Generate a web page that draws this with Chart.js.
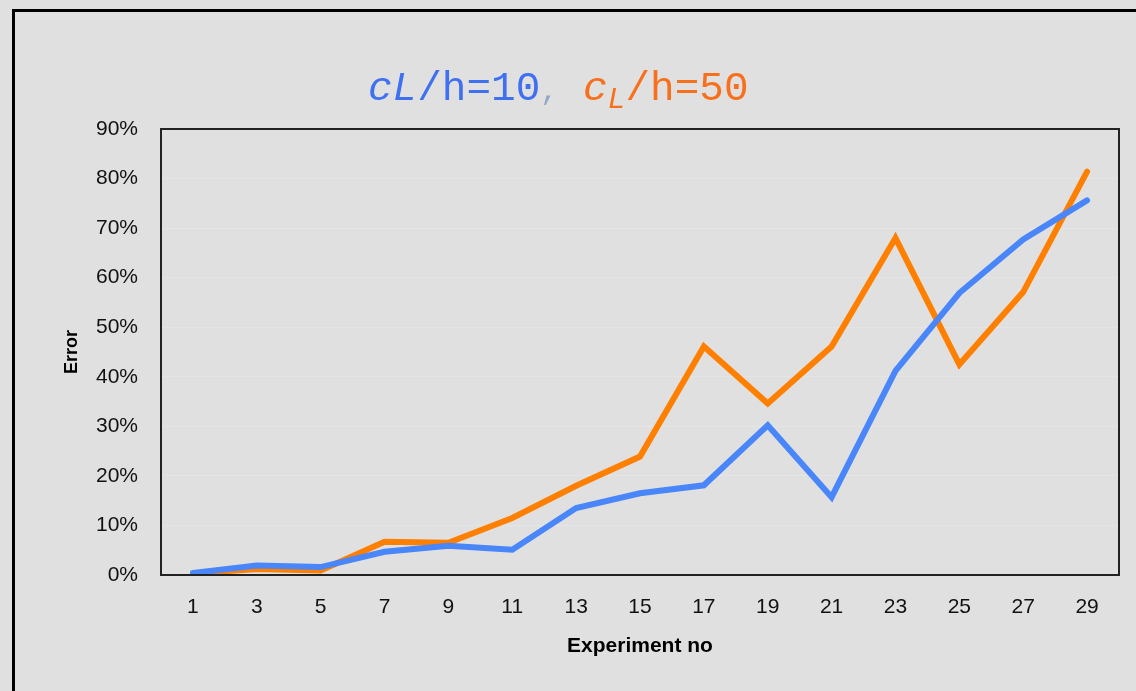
<!DOCTYPE html>
<html>
<head>
<meta charset="utf-8">
<script src="https://cdn.jsdelivr.net/npm/chart.js@4"></script>
<style>
  html, body { margin: 0; padding: 0; background: #e0e0e0; overflow: hidden; }
  #wrap { position: relative; width: 1136px; height: 691px; }
  #frame { position: absolute; left: 12px; top: 9px; width: 1200px; height: 800px;
           border-left: 3px solid #000; border-top: 3px solid #000; }
  #chart { position: absolute; left: 0; top: 0; }
  #title { position: absolute; left: 368px; top: 65px; font-family: "Liberation Mono", monospace;
           font-size: 41px; line-height: 48px; white-space: nowrap; }
  #title .b { color: #3f70f2; }
  #title .o { color: #f8701c; }
  #title .cm { color: #8fa9c9; font-size: 30px; }
  #title sub { font-size: 30px; vertical-align: -8px; line-height: 0; }
</style>
</head>
<body>
<div id="wrap">
  <div id="frame"></div>
  <canvas id="chart" width="1136" height="691"></canvas>
  <div id="title"><span class="b"><i>c</i><i>L</i>/h=10</span><span class="cm">,</span> <span class="o"><i>c</i><sub><i>L</i></sub>/h=50</span></div>
</div>
<script>
const experiments = ['1', '3', '5', '7', '9', '11', '13', '15', '17', '19', '21', '23', '25', '27', '29'];
const errorH10 = [0.004, 0.019, 0.016, 0.047, 0.059, 0.051, 0.135, 0.165, 0.181, 0.302, 0.157, 0.412, 0.569, 0.677, 0.756];
const errorH50 = [0.003, 0.012, 0.009, 0.067, 0.065, 0.115, 0.180, 0.239, 0.461, 0.346, 0.461, 0.680, 0.425, 0.571, 0.814];

// box around the plot area
const plotBox = {
  id: 'plotBox',
  afterDatasetsDraw(chart) {
    const a = chart.chartArea;
    const ctx = chart.ctx;
    ctx.save();
    ctx.strokeStyle = '#222';
    ctx.lineWidth = 2;
    ctx.strokeRect(a.left, a.top, a.right - a.left, a.bottom - a.top);
    ctx.restore();
  }
};

const ctx = document.getElementById('chart').getContext('2d');
new Chart(ctx, {
  type: 'line',
  data: {
    labels: experiments,
    datasets: [
      {
        label: 'cL/h=10',
        data: errorH10,
        borderColor: '#4886fa',
        borderWidth: 6,
        borderCapStyle: 'round',
        pointRadius: 0,
        tension: 0,
        fill: false
      },
      {
        label: 'cL/h=50',
        data: errorH50,
        borderColor: '#ff7f00',
        borderWidth: 6,
        borderCapStyle: 'round',
        pointRadius: 0,
        tension: 0,
        fill: false
      }
    ]
  },
  options: {
    responsive: false,
    animation: false,
    layout: { padding: { left: 0, top: 129, right: 17, bottom: 0 } },
    plugins: { legend: { display: false }, tooltip: { enabled: false } },
    scales: {
      x: {
        offset: true,
        grid: { display: false, drawTicks: false },
        border: { display: false },
        ticks: { color: '#111', padding: 20, maxRotation: 0, autoSkip: false,
                 font: { family: 'Liberation Sans', size: 21 } },
        title: { display: true, text: 'Experiment no', color: '#000',
                 font: { family: 'Liberation Sans', size: 21, weight: 'bold' },
                 padding: { top: 0, bottom: 32 } },
        afterFit(scale) { scale.height = 116; }
      },
      y: {
        min: 0,
        max: 0.9,
        grid: { color: '#e5e5e5', lineWidth: 1, drawTicks: false },
        border: { display: false },
        ticks: { stepSize: 0.1, color: '#111', padding: 23,
                 font: { family: 'Liberation Sans', size: 21 },
                 callback: v => Math.round(v * 100) + '%' },
        title: { display: true, text: 'Error', color: '#000',
                 font: { family: 'Liberation Sans', size: 18, weight: 'bold' },
                 padding: { top: 61, bottom: 0 } },
        afterFit(scale) { scale.width = 161; }
      }
    }
  },
  plugins: [plotBox]
});
</script>
</body>
</html>
